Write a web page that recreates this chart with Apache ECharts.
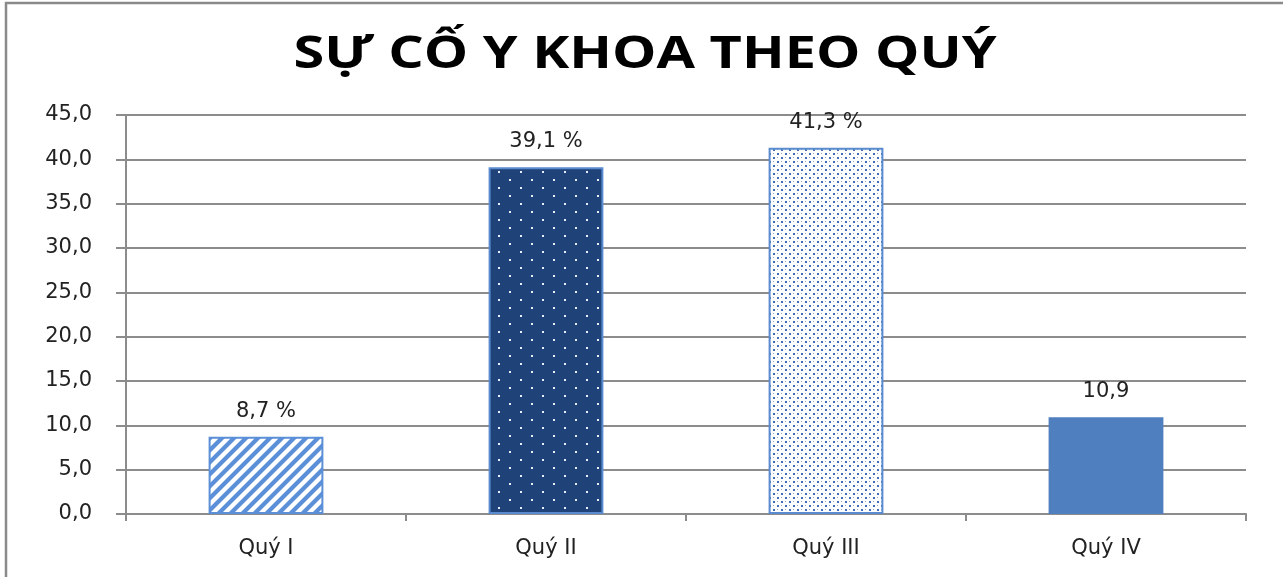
<!DOCTYPE html>
<html>
<head>
<meta charset="utf-8">
<script src="https://cdn.jsdelivr.net/npm/echarts@6/dist/echarts.min.js"></script>
<style>html,body{margin:0;padding:0;background:#fff;}#c{width:1283px;height:577px;}</style>
</head>
<body>
<div id="c"></div>
<script>
const titleText = "SỰ CỐ Y KHOA THEO QUÝ";
const categories = ["Quý I", "Quý II", "Quý III", "Quý IV"];
const values = [8.7, 39.1, 41.3, 10.9];
const valueLabels = ["8,7 %", "39,1 %", "41,3 %", "10,9"];
const yTicks = { min: 0, max: 45, interval: 5 };

function makeTile(w, h, draw) {
  const c = document.createElement('canvas');
  c.width = w; c.height = h;
  const ctx = c.getContext('2d');
  draw(ctx, w, h);
  return c;
}
const stripeTile = makeTile(12, 12, (ctx, w, h) => {
  ctx.fillStyle = '#ffffff'; ctx.fillRect(0, 0, w, h);
  ctx.strokeStyle = '#5b8fd8'; ctx.lineWidth = 4.2;
  for (let k = -1; k <= 1; k++) {
    ctx.beginPath();
    ctx.moveTo(k * w - 2, h + 2);
    ctx.lineTo(k * w + w + 2, -2);
    ctx.stroke();
  }
});
const navyDotTile = makeTile(22, 16, (ctx, w, h) => {
  ctx.fillStyle = '#1f4279'; ctx.fillRect(0, 0, w, h);
  ctx.fillStyle = '#e8eef8';
  ctx.fillRect(3, 3, 2, 2);
  ctx.fillRect(14, 11, 2, 2);
});
const lightDotTile = makeTile(8, 8, (ctx, w, h) => {
  ctx.fillStyle = '#ffffff'; ctx.fillRect(0, 0, w, h);
  ctx.fillStyle = '#3f6fb4';
  ctx.fillRect(1, 1, 2, 2);
  ctx.fillRect(5, 5, 2, 2);
  ctx.fillStyle = '#8fabd8';
  ctx.fillRect(5, 1, 1, 1);
  ctx.fillRect(1, 5, 1, 1);
});

const barStyles = [
  { color: { image: stripeTile, repeat: 'repeat' }, borderColor: '#5b8fd8', borderWidth: 2 },
  { color: { image: navyDotTile, repeat: 'repeat' }, borderColor: '#5a8ad0', borderWidth: 2 },
  { color: { image: lightDotTile, repeat: 'repeat' }, borderColor: '#5a8ad0', borderWidth: 2 },
  { color: '#4f7fbe', borderWidth: 0 }
];

const chart = echarts.init(document.getElementById('c'), null, { renderer: 'canvas' });
const font = 'DejaVu Sans';
chart.setOption({
  animation: false,
  backgroundColor: '#ffffff',
  graphic: [{
    type: 'rect', silent: true, z: 100,
    shape: { x: 6, y: 3, width: 1400, height: 700 },
    style: { fill: 'none', stroke: '#8a8a8a', lineWidth: 2.5 }
  }, {
    type: 'text', silent: true, z: 100,
    x: 645, y: 55, scaleX: 1.27, scaleY: 1,
    style: {
      text: titleText, x: 0, y: 0, align: 'center', verticalAlign: 'middle',
      font: 'bold 44px "Open Sans"', fill: '#000'
    }
  }],
  grid: { left: 126, right: 37, top: 115, bottom: 63 },
  xAxis: {
    type: 'category',
    data: categories,
    boundaryGap: true,
    axisLine: { lineStyle: { color: '#8c8c8c', width: 2 } },
    axisTick: { show: true, length: 7, lineStyle: { color: '#8c8c8c', width: 2 } },
    axisLabel: { margin: 24, fontFamily: font, fontSize: 21, color: '#222' }
  },
  yAxis: {
    type: 'value',
    min: yTicks.min, max: yTicks.max, interval: yTicks.interval,
    axisLine: { show: true, lineStyle: { color: '#8c8c8c', width: 2 } },
    axisTick: { show: true, length: 10, lineStyle: { color: '#8c8c8c', width: 2 } },
    splitLine: { lineStyle: { color: '#8c8c8c', width: 2 } },
    axisLabel: {
      margin: 34, fontFamily: font, fontSize: 21, color: '#222',
      formatter: v => v.toFixed(1).replace('.', ',')
    }
  },
  series: [{
    type: 'bar',
    barWidth: '41%',
    data: values.map((v, i) => ({ value: v, itemStyle: barStyles[i] })),
    label: {
      show: true, position: 'top', distance: 15,
      fontFamily: font, fontSize: 21, color: '#222',
      formatter: p => valueLabels[p.dataIndex]
    }
  }]
});
</script>
</body>
</html>
